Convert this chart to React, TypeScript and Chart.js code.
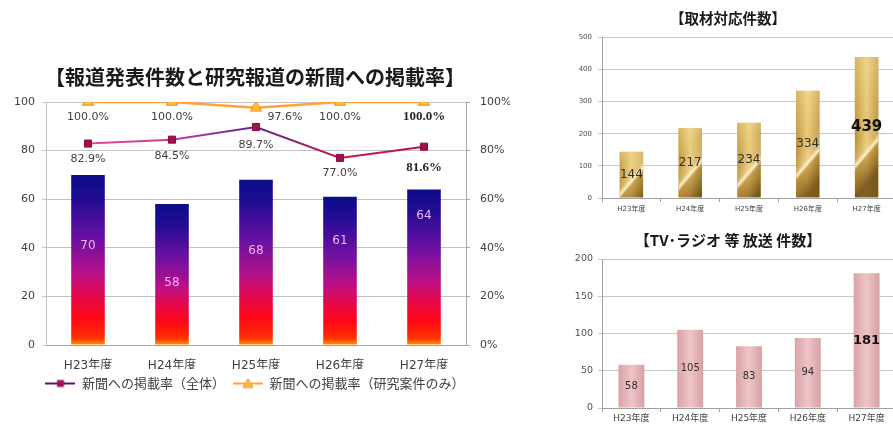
import { useEffect, useRef } from 'react';
import { Chart, registerables } from 'chart.js';
Chart.register(...registerables);

// ---------- data ----------
const years = ['H23年度', 'H24年度', 'H25年度', 'H26年度', 'H27年度'];
const pressReleaseCounts = [70, 58, 68, 61, 64];
const rateAll = [82.9, 84.5, 89.7, 77.0, 81.6];
const rateResearch = [100.0, 100.0, 97.6, 100.0, 100.0];
const interviewCounts = [144, 217, 234, 334, 439];
const broadcastCounts = [58, 105, 83, 94, 181];

const countTicks = [0, 20, 40, 60, 80, 100];
const interviewMax = 500;
const broadcastMax = 200;

const title1 = '【報道発表件数と研究報道の新聞への掲載率】';
const title2 = '【取材対応件数】';
const title3 = '【TV･ラジオ 等 放送 件数】';
const legendAll = '新聞への掲載率（全体）';
const legendResearch = '新聞への掲載率（研究案件のみ）';

// ---------- style-only arrays ----------
const pressLabelAnchor = [0.58, 0.44, 0.57, 0.7, 0.83];
const emphasize = [false, false, false, false, true];
const researchLabelDx = [0, 0, 29, 0, 0];
const researchLabelDy = [15, 15, 9, 15, 15];
const allLabelDy = [16, 16, 18, 15, 21];

const NUM = "'DejaVu Sans', 'Noto Sans CJK JP', sans-serif";
const JP = "'Noto Sans CJK JP', sans-serif";

function makeIcon(kind: 'rect' | 'tri') {
  const c = document.createElement('canvas');
  c.width = 30;
  c.height = 12;
  const g = c.getContext('2d')!;
  g.lineWidth = 2;
  g.strokeStyle = kind === 'rect' ? '#4a1a72' : '#ffa23a';
  g.beginPath();
  g.moveTo(0, 6);
  g.lineTo(30, 6);
  g.stroke();
  if (kind === 'rect') {
    g.fillStyle = '#a3104e';
    g.fillRect(11.5, 2.5, 7, 7);
  } else {
    g.fillStyle = '#fcc040';
    g.strokeStyle = '#f0901a';
    g.lineWidth = 1;
    g.beginPath();
    g.moveTo(15, 1.5);
    g.lineTo(20, 10);
    g.lineTo(10, 10);
    g.closePath();
    g.fill();
    g.stroke();
  }
  return c;
}

function makeChart1(canvas: HTMLCanvasElement) {
  const iconAll = makeIcon('rect');
  const iconResearch = makeIcon('tri');

  const barFill = (ctx: any) => {
    const chart = ctx.chart;
    if (!chart.chartArea || ctx.raw == null) return '#5a10a0';
    const ys = chart.scales.y;
    const top = ys.getPixelForValue(ctx.raw);
    const bottom = ys.getPixelForValue(0);
    const h = Math.max(bottom - top, 1);
    const g = chart.ctx.createLinearGradient(0, top, 0, bottom);
    g.addColorStop(0, '#0c0c88');
    g.addColorStop(0.14, '#220c94');
    g.addColorStop(0.38, '#6c10a2');
    g.addColorStop(0.58, '#b8108a');
    g.addColorStop(0.72, '#e60848');
    g.addColorStop(Math.min(0.84, 1 - 16 / h), '#ff0818');
    g.addColorStop(1 - 7 / h, '#ff3000');
    g.addColorStop(1, '#ff9400');
    return g;
  };

  const lineAllColor = (ctx: any) => {
    const chart = ctx.chart;
    const a = chart.chartArea;
    if (!a) return '#a03080';
    const xs = chart.scales.x;
    const x0 = xs.getPixelForValue(0);
    const x1 = xs.getPixelForValue(years.length - 1);
    const g = chart.ctx.createLinearGradient(x0, 0, x1, 0);
    g.addColorStop(0, '#e04a98');
    g.addColorStop(0.25, '#c83a9c');
    g.addColorStop(0.5, '#5a2a9a');
    g.addColorStop(0.75, '#c81848');
    g.addColorStop(1, '#c01040');
    return g;
  };

  const labels1 = {
    id: 'labels1',
    afterDatasetsDraw(chart: any) {
      const ctx = chart.ctx;
      ctx.save();
      ctx.textAlign = 'center';
      ctx.textBaseline = 'middle';
      chart.getDatasetMeta(0).data.forEach((bar: any, i: number) => {
        const p = bar.getProps(['x', 'y', 'base'], true);
        ctx.font = `12px ${NUM}`;
        ctx.fillStyle = '#f0b4f0';
        ctx.fillText(String(pressReleaseCounts[i]), p.x, p.base - (p.base - p.y) * pressLabelAnchor[i]);
      });
      const drawRate = (di: number, vals: number[], dx: number[], dy: number[]) => {
        chart.getDatasetMeta(di).data.forEach((pt: any, i: number) => {
          const p = pt.getProps(['x', 'y'], true);
          if (emphasize[i]) {
            ctx.font = `bold 13px 'Liberation Serif', serif`;
            ctx.fillStyle = '#262626';
          } else {
            ctx.font = `11px ${NUM}`;
            ctx.fillStyle = '#404040';
          }
          ctx.fillText(vals[i].toFixed(1) + '%', p.x + dx[i], p.y + dy[i]);
        });
      };
      drawRate(1, rateAll, [0, 0, 0, 0, 0], allLabelDy);
      drawRate(2, rateResearch, researchLabelDx, researchLabelDy);
      ctx.restore();
    },
  };

  return new Chart(canvas, {
    type: 'bar',
    data: {
      labels: years,
      datasets: [
        {
          type: 'bar',
          label: '報道発表件数',
          data: pressReleaseCounts,
          backgroundColor: barFill,
          borderWidth: 0,
          categoryPercentage: 1,
          barPercentage: 0.4,
          yAxisID: 'y',
          order: 3,
        },
        {
          type: 'line',
          label: legendAll,
          data: rateAll,
          yAxisID: 'y2',
          borderColor: lineAllColor,
          borderWidth: 2,
          pointStyle: 'rect',
          pointRadius: 5,
          pointBackgroundColor: '#a3104e',
          pointBorderColor: '#8a0a40',
          pointBorderWidth: 1,
          order: 1,
        } as any,
        {
          type: 'line',
          label: legendResearch,
          data: rateResearch,
          yAxisID: 'y2',
          borderColor: '#ffa23a',
          borderWidth: 2.5,
          pointStyle: 'triangle',
          pointRadius: 6.5,
          pointBackgroundColor: '#fcc040',
          pointBorderColor: '#f0901a',
          pointBorderWidth: 1,
          order: 2,
        } as any,
      ],
    },
    options: {
      animation: false,
      responsive: true,
      maintainAspectRatio: false,
      layout: { padding: 0 },
      plugins: {
        tooltip: { enabled: false },
        title: {
          display: true,
          text: title1,
          color: '#1a1a1a',
          font: { family: JP, size: 20, weight: 'bold', lineHeight: 1.2 },
          padding: { top: 15, bottom: 13 },
        },
        legend: {
          display: true,
          position: 'bottom',
          labels: {
            usePointStyle: true,
            pointStyleWidth: 30,
            padding: 8,
            color: '#404040',
            font: { family: JP, size: 13 },
            generateLabels: (chart: any) =>
              (Chart.defaults.plugins.legend.labels.generateLabels as any)(chart)
                .filter((it: any) => it.datasetIndex !== 0)
                .map((it: any) => ({
                  ...it,
                  pointStyle: it.datasetIndex === 1 ? iconAll : iconResearch,
                })),
          },
        },
      },
      scales: {
        x: {
          grid: { display: false },
          border: { display: true, color: '#a6a6a6' },
          ticks: { color: '#404040', font: { family: NUM, size: 12 }, padding: 6 },
          afterFit: (s: any) => {
            s.height = 24;
          },
        },
        y: {
          position: 'left',
          min: 0,
          max: countTicks[countTicks.length - 1],
          afterBuildTicks: (s: any) => {
            s.ticks = countTicks.map((v) => ({ value: v }));
          },
          ticks: { color: '#404040', font: { family: NUM, size: 11 }, padding: 7 },
          grid: { color: '#c4c4c4', tickLength: 4 },
          border: { display: true, color: '#c4c4c4' },
          afterFit: (s: any) => {
            s.width = 46;
          },
        },
        y2: {
          position: 'right',
          min: 0,
          max: 100,
          afterBuildTicks: (s: any) => {
            s.ticks = countTicks.map((v) => ({ value: v }));
          },
          ticks: {
            color: '#404040',
            font: { family: NUM, size: 11 },
            padding: 10,
            callback: (v: any) => v + '%',
          },
          grid: { drawOnChartArea: false, tickLength: 4, color: '#a6a6a6' },
          border: { display: true, color: '#a6a6a6' },
          afterFit: (s: any) => {
            s.width = 44;
          },
        },
      },
    },
    plugins: [labels1],
  } as any);
}

function makeChart2(canvas: HTMLCanvasElement) {
  const base = (ctx: any) => {
    const chart = ctx.chart;
    if (!chart.chartArea || ctx.raw == null) return '#c9a043';
    const xs = chart.scales.x;
    const xc = xs.getPixelForValue(ctx.dataIndex);
    const hw = (xs.width / years.length) * 0.4 / 2;
    const g = chart.ctx.createLinearGradient(xc - hw, 0, xc + hw, 0);
    g.addColorStop(0, '#bc8e34');
    g.addColorStop(0.5, '#e6c676');
    g.addColorStop(1, '#ba8c34');
    return g;
  };

  const overlay = {
    id: 'goldOverlay',
    afterDatasetDraw(chart: any, args: any) {
      if (args.index !== 0) return;
      const ctx = chart.ctx;
      args.meta.data.forEach((bar: any) => {
        const p = bar.getProps(['x', 'y', 'base', 'width'], true);
        const left = p.x - p.width / 2;
        const h = p.base - p.y;
        const yc = p.base - 0.3 * h;
        ctx.save();
        ctx.beginPath();
        ctx.rect(left, p.y, p.width, h);
        ctx.clip();
        const tg = ctx.createLinearGradient(0, p.y, 0, p.y + h * 0.6);
        tg.addColorStop(0, 'rgba(250,230,160,0.45)');
        tg.addColorStop(1, 'rgba(250,230,160,0)');
        ctx.fillStyle = tg;
        ctx.fillRect(left, p.y, p.width, h);
        const d = p.width * 0.6;
        const g = ctx.createLinearGradient(p.x - d, yc - d * 0.85, p.x + d, yc + d * 0.85);
        g.addColorStop(0, 'rgba(255,240,190,0)');
        g.addColorStop(0.36, 'rgba(255,240,190,0.25)');
        g.addColorStop(0.46, 'rgba(255,246,210,0.95)');
        g.addColorStop(0.54, 'rgba(180,140,55,0.6)');
        g.addColorStop(1, 'rgba(110,78,22,0.85)');
        ctx.fillStyle = g;
        ctx.fillRect(left, p.y, p.width, h);
        ctx.restore();
      });
    },
    afterDatasetsDraw(chart: any) {
      const ctx = chart.ctx;
      ctx.save();
      ctx.textAlign = 'center';
      ctx.textBaseline = 'middle';
      chart.getDatasetMeta(0).data.forEach((bar: any, i: number) => {
        const p = bar.getProps(['x', 'y', 'base'], true);
        if (emphasize[i]) {
          ctx.font = `bold 15px ${NUM}`;
          ctx.fillStyle = '#111111';
        } else {
          ctx.font = `12px ${NUM}`;
          ctx.fillStyle = '#303030';
        }
        ctx.fillText(String(interviewCounts[i]), p.x, (p.y + p.base) / 2);
      });
      ctx.restore();
    },
  };

  return new Chart(canvas, {
    type: 'bar',
    data: {
      labels: years,
      datasets: [
        {
          label: '取材対応件数',
          data: interviewCounts,
          backgroundColor: base,
          borderWidth: 0,
          categoryPercentage: 1,
          barPercentage: 0.4,
        },
      ],
    },
    options: {
      animation: false,
      responsive: true,
      maintainAspectRatio: false,
      layout: { padding: 0 },
      plugins: {
        tooltip: { enabled: false },
        legend: { display: false },
        title: {
          display: true,
          text: title2,
          color: '#1a1a1a',
          font: { family: JP, size: 14.5, weight: 'bold', lineHeight: 1.2 },
          padding: { top: 10, bottom: 10 },
        },
      },
      scales: {
        x: {
          grid: { display: true, drawOnChartArea: false, tickLength: 4, color: '#a0a0a0', offset: true },
          border: { display: true, color: '#a0a0a0' },
          ticks: { color: '#404040', font: { family: NUM, size: 7 }, padding: 3 },
          afterFit: (s: any) => {
            s.height = 20;
          },
        },
        y: {
          min: 0,
          max: interviewMax,
          ticks: { stepSize: 100, color: '#505050', font: { family: NUM, size: 7 }, padding: 6 },
          grid: { color: '#c8c8c8', tickLength: 4 },
          border: { display: true, color: '#a0a0a0' },
          afterFit: (s: any) => {
            s.width = 42;
          },
        },
      },
    },
    plugins: [overlay],
  } as any);
}

function makeChart3(canvas: HTMLCanvasElement) {
  const base = (ctx: any) => {
    const chart = ctx.chart;
    if (!chart.chartArea || ctx.raw == null) return '#e6b5b8';
    const xs = chart.scales.x;
    const xc = xs.getPixelForValue(ctx.dataIndex);
    const hw = (xs.width / years.length) * 0.44 / 2;
    const g = chart.ctx.createLinearGradient(xc - hw, 0, xc + hw, 0);
    g.addColorStop(0, '#d9a2a6');
    g.addColorStop(0.5, '#eec5c7');
    g.addColorStop(1, '#d8a0a4');
    return g;
  };

  const labels3 = {
    id: 'labels3',
    afterDatasetsDraw(chart: any) {
      const ctx = chart.ctx;
      ctx.save();
      ctx.textAlign = 'center';
      ctx.textBaseline = 'middle';
      chart.getDatasetMeta(0).data.forEach((bar: any, i: number) => {
        const p = bar.getProps(['x', 'y', 'base'], true);
        if (emphasize[i]) {
          ctx.font = `bold 13px ${NUM}`;
          ctx.fillStyle = '#111111';
        } else {
          ctx.font = `10px ${NUM}`;
          ctx.fillStyle = '#303030';
        }
        ctx.fillText(String(broadcastCounts[i]), p.x, (p.y + p.base) / 2);
      });
      ctx.restore();
    },
  };

  return new Chart(canvas, {
    type: 'bar',
    data: {
      labels: years,
      datasets: [
        {
          label: 'TV･ラジオ等 放送件数',
          data: broadcastCounts,
          backgroundColor: base,
          borderWidth: 0,
          categoryPercentage: 1,
          barPercentage: 0.44,
        },
      ],
    },
    options: {
      animation: false,
      responsive: true,
      maintainAspectRatio: false,
      layout: { padding: 0 },
      plugins: {
        tooltip: { enabled: false },
        legend: { display: false },
        title: {
          display: true,
          text: title3,
          color: '#1a1a1a',
          font: { family: JP, size: 15, weight: 'bold', lineHeight: 1.2 },
          padding: { top: 6, bottom: 10 },
        },
      },
      scales: {
        x: {
          grid: { display: true, drawOnChartArea: false, tickLength: 4, color: '#a0a0a0', offset: true },
          border: { display: true, color: '#a0a0a0' },
          ticks: { color: '#404040', font: { family: NUM, size: 9 }, padding: 1 },
          afterFit: (s: any) => {
            s.height = 17;
          },
        },
        y: {
          min: 0,
          max: broadcastMax,
          ticks: { stepSize: 50, color: '#505050', font: { family: NUM, size: 9.5 }, padding: 5 },
          grid: { color: '#c8c8c8', tickLength: 4 },
          border: { display: true, color: '#a0a0a0' },
          afterFit: (s: any) => {
            s.width = 42;
          },
        },
      },
    },
    plugins: [labels3],
  } as any);
}

export default function App() {
  const r1 = useRef<HTMLCanvasElement>(null);
  const r2 = useRef<HTMLCanvasElement>(null);
  const r3 = useRef<HTMLCanvasElement>(null);

  useEffect(() => {
    const charts = [makeChart1(r1.current!), makeChart2(r2.current!), makeChart3(r3.current!)];
    return () => charts.forEach((c) => c.destroy());
  }, []);

  return (
    <div
      style={{
        position: 'absolute',
        left: 0,
        top: 0,
        width: 893,
        height: 425,
        overflow: 'hidden',
        background: '#ffffff',
      }}
    >
      <div style={{ position: 'absolute', left: 0, top: 50, width: 510, height: 350 }}>
        <canvas ref={r1} />
      </div>
      <div style={{ position: 'absolute', left: 560, top: 0, width: 336, height: 218 }}>
        <canvas ref={r2} />
      </div>
      <div style={{ position: 'absolute', left: 560, top: 225, width: 336, height: 200 }}>
        <canvas ref={r3} />
      </div>
    </div>
  );
}
